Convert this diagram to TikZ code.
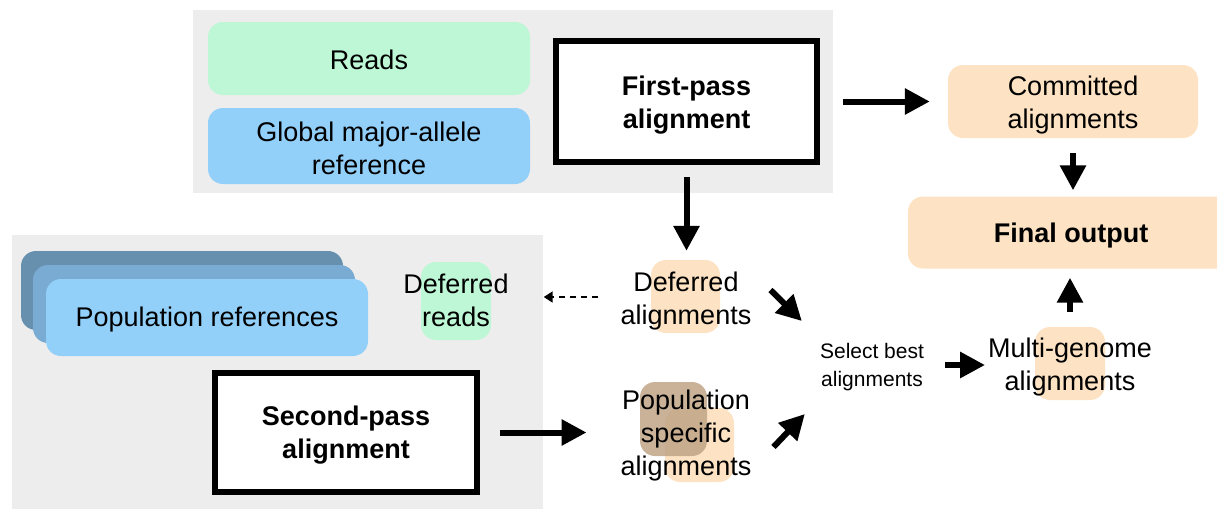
\documentclass[tikz,border=0pt]{standalone}
\usepackage{fontspec}
\setmainfont{Liberation Sans}
\usetikzlibrary{arrows.meta,calc}
\definecolor{panelgray}{HTML}{EDEDED}
\definecolor{readsgreen}{HTML}{BEF7D6}
\definecolor{refblue}{HTML}{92D0FA}
\definecolor{peach}{HTML}{FDE3C3}
\definecolor{brownish}{HTML}{BFA586}
\definecolor{popdark}{HTML}{6690AE}
\definecolor{popmid}{HTML}{7AABD2}
\begin{document}
\begin{tikzpicture}[x=1pt,y=-1pt,
  panel/.style={fill=panelgray,draw=none,inner sep=0pt},
  rbox/.style={draw=none,rounded corners=15pt,inner sep=0pt},
  txt/.style={inner sep=0pt,align=center,font=\fontsize{27}{33}\selectfont},
  boldtxt/.style={txt,font=\bfseries\fontsize{27}{33}\selectfont},
  smalltxt/.style={inner sep=0pt,align=center,font=\fontsize{21}{28}\selectfont},
  passbox/.style={draw=black,line width=6pt,fill=white,inner sep=0pt},
  bigarrow/.style={line width=6pt,-{Triangle[length=25pt,width=25pt]}},
  dasharrow/.style={line width=2pt,dash pattern=on 6pt off 5pt,-{Triangle[length=9pt,width=11pt]}}]
\useasboundingbox (0,0) rectangle (1217,509);
% panels
\node[panel,minimum width=640pt,minimum height=183pt] (toppanel) at (513,101.5) {};
\node[panel,minimum width=531pt,minimum height=274pt] (botpanel) at (277.5,372) {};
% top inputs
\node[rbox,fill=readsgreen,minimum width=322pt,minimum height=73pt] (reads) at (369,58.5) {};
\node[txt] (readsl) at ([yshift=-1pt]reads.center) {Reads};
\node[rbox,fill=refblue,minimum width=322pt,minimum height=76pt] (global) at (369,146) {};
\node[txt] (globall) at ([yshift=-2pt]global.center) {Global major-allele\\reference};
\node[passbox,minimum width=261pt,minimum height=121pt] (fp) at (686.5,101.5) {};
\node[boldtxt] (fpl) at ([yshift=-4pt]fp.center) {First-pass\\alignment};
% right column
\node[rbox,fill=peach,minimum width=250pt,minimum height=73pt] (cm) at (1073,101.5) {};
\node[txt] (cml) at ([yshift=-4pt]cm.center) {Committed\\alignments};
\node[rbox,fill=peach,minimum width=324pt,minimum height=72pt] (fo) at (1070,232.5) {};
\node[boldtxt] (fol) at ([xshift=1pt,yshift=-3pt]fo.center) {Final output};
\node[rbox,fill=peach,minimum width=70pt,minimum height=73pt] (mgbg) at (1070,363.5) {};
\node[txt] (mg) at (1070,367) {Multi-genome\\alignments};
% middle column
\node[rbox,fill=peach,minimum width=69pt,minimum height=73pt] (dabg) at (685.5,296.5) {};
\node[txt] (da) at (686,301) {Deferred\\alignments};
\node[rbox,fill=peach,minimum width=69pt,minimum height=74pt] (psbg) at (699.5,445) {};
\node[rbox,fill=brownish,fill opacity=0.85,minimum width=67pt,minimum height=74pt] (psbrown) at (673.5,419) {};
\node[txt] (ps) at (686,436) {Population\\specific\\alignments};
\node[smalltxt] (sel) at (872,367) {Select best\\alignments};
% bottom panel content
\node[rbox,fill=popdark,minimum width=322pt,minimum height=79pt] (popback) at (182,290.5) {};
\node[rbox,fill=popmid,minimum width=322pt,minimum height=78pt] (popmidbox) at (194,304) {};
\node[rbox,fill=refblue,minimum width=322pt,minimum height=77pt] (pop) at (207,317.5) {};
\node[txt] (popl) at ([yshift=-2pt]pop.center) {Population references};
\node[rbox,fill=readsgreen,minimum width=70pt,minimum height=78pt] (drbg) at (456,301) {};
\node[txt] (dr) at (456,300) {Deferred\\reads};
\node[passbox,minimum width=262pt,minimum height=119pt] (sp) at (346,432.5) {};
\node[boldtxt] (spl) at ([yshift=-3pt]sp.center) {Second-pass\\alignment};
% connectors
\draw[bigarrow,shorten <=23pt,shorten >=18pt] (fp.east) -- (cm.west);
\draw[bigarrow,shorten <=12pt,shorten >=9pt] (fp.south) -- (fp.south |- dabg.north);
\draw[bigarrow,shorten <=15pt,shorten >=6pt] (cm.south) -- (cm.south |- fo.north);
\draw[bigarrow,shorten <=15pt,shorten >=9pt] (mgbg.north) -- (mgbg.north |- fo.south);
\draw[bigarrow,shorten <=20pt,shorten >=34pt] (sp.east) -- (sp.east -| ps.west);
\draw[bigarrow] ([shift={(19pt,11pt)}]da.east) -- ([shift={(-18pt,22pt)}]sel.north west);
\draw[bigarrow] ([shift={(22pt,-11pt)}]ps.east) -- ([shift={(-15pt,-23pt)}]sel.south west);
\draw[bigarrow,shorten <=21pt,shorten >=3pt] ([yshift=2pt]sel.east) -- ([yshift=2pt]sel.east -| mg.west);
\draw[dasharrow,shorten <=23pt,shorten >=35pt] ([yshift=4pt]da.west) -- ([yshift=4pt]da.west -| dr.east);
\end{tikzpicture}
\end{document}
